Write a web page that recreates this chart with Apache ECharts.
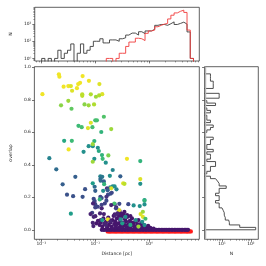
<!DOCTYPE html>
<html><head><meta charset="utf-8">
<script src="https://cdn.jsdelivr.net/npm/echarts@6/dist/echarts.min.js"></script>
<style>html,body{margin:0;padding:0;background:#fff}#c{width:266px;height:266px}</style>
</head><body><div id="c"></div>
<script>
// ---------------- DATA ----------------
// log10(distance / pc) bin edges for the top histogram
const distEdgesLog = [-2.00,-1.94,-1.88,-1.82,-1.76,-1.70,-1.64,-1.58,-1.52,-1.46,-1.40,-1.34,-1.28,-1.22,-1.16,-1.10,-1.04,-0.98,-0.92,-0.86,-0.80,-0.74,-0.68,-0.62,-0.56,-0.50,-0.44,-0.38,-0.32,-0.26,-0.20,-0.14,-0.08,-0.02,0.04,0.10,0.16,0.22,0.28,0.34,0.40,0.46,0.52,0.58,0.64,0.70,0.76,0.82];
// counts per bin: all pairs (black) and red subset
const countAll = [1,0,1,0,1,3,1,2,3,7,0,2,7,2,3,5,10,10,14,8,8,12,12,10,14,16,23,30,30,23,36,28,40,40,50,85,95,95,85,105,135,95,110,130,100,35,1];
const countRed = [0,0,0,0,0,0,0,0,0,0,0,0,0,0,0,0,0,0,0,0,1,1,0,1,2,2,5,9,9,15,14,11,29,40,45,70,85,100,110,200,330,450,560,650,480,45,1];
// overlap bin edges and counts for the right histogram
const overlapEdges = [0,0.015,0.03,0.045,0.06,0.075,0.09,0.105,0.12,0.135,0.15,0.165,0.18,0.195,0.21,0.225,0.24,0.255,0.27,0.285,0.30,0.315,0.33,0.345,0.36,0.375,0.39,0.405,0.42,0.435,0.45,0.465,0.48,0.495,0.51,0.525,0.54,0.555,0.57,0.585,0.60,0.615,0.63,0.645,0.66,0.675,0.69,0.705,0.72,0.735,0.75,0.765,0.78,0.795,0.81,0.825,0.84,0.855,0.87,0.885,0.90,0.915,0.93,0.945,0.96];
const overlapCounts = [146,41,18,17,13,12,12,11,10,8,8,6,8,8,6,8,8,14,8,7,6,4,2,3,4,4,6,6,3,4,4,3,5,3,3,4,4,5,2,1,3,4,5,2,4,3,3,2,4,3,2,6,3,2,8,8,2,2,5,5,5,4,4,4];

// red points (overlap slightly below zero): log10 distance
const redLogDist = [-0.77,-0.74,-0.72,-0.69,-0.66,-0.63,-0.61,-0.58,-0.55,-0.52,-0.50,-0.47,-0.44,-0.41,-0.39,-0.36,-0.33,-0.30,-0.28,-0.25,-0.22,-0.19,-0.17,-0.14,-0.11,-0.08,-0.06,-0.03,0.00,0.03,0.05,0.08,0.11,0.14,0.16,0.19,0.22,0.25,0.27,0.30,0.33,0.36,0.38,0.41,0.44,0.47,0.49,0.52,0.55,0.58,0.60,0.63,0.66,0.69,0.71,0.74,0.77];
const redOverlap = -0.01;
// purple band at overlap 0: log10 distance
const bandLogDist = [-0.88,-0.85,-0.825,-0.79,-0.765,-0.73,-0.705,-0.67,-0.64,-0.615,-0.58,-0.555,-0.52,-0.495,-0.46,-0.435,-0.40,-0.375,-0.34,-0.31,-0.285,-0.25,-0.225,-0.19,-0.165,-0.13,-0.105,-0.07,-0.045,-0.01,0.015,0.05,0.075,0.11,0.135,0.17,0.195,0.23,0.255,0.29,0.315,0.35,0.375,0.41,0.435,0.47,0.495,0.53,0.555,0.59,0.615,0.65,0.675,0.70,0.72];
// dense low-overlap purple cluster: [log10 distance, overlap]
const moundPoints = [[-0.98,0.04],[-0.95,0.055],[-0.92,0.03],[-0.9,0.045],[-0.87,0.02],[-0.85,0.07],[-0.83,0.035],[-0.8,0.05],[-0.78,0.015],[-0.76,0.075],[-0.75,0.03],[-0.72,0.045],[-0.7,0.02],[-0.68,0.06],[-0.66,0.085],[-0.65,0.035],[-0.63,0.05],[-0.62,0.015],[-0.6,0.07],[-0.58,0.1],[-0.57,0.04],[-0.55,0.115],[-0.54,0.06],[-0.53,0.025],[-0.51,0.08],[-0.5,0.045],[-0.48,0.095],[-0.47,0.03],[-0.45,0.065],[-0.43,0.05],[-0.42,0.015],[-0.4,0.08],[-0.38,0.035],[-0.36,0.055],[-0.34,0.02],[-0.32,0.07],[-0.3,0.04],[-0.28,0.025],[-0.26,0.05],[-0.24,0.015],[-0.22,0.035],[-0.2,0.06],[-0.18,0.02],[-0.15,0.04],[-0.12,0.015],[-0.1,0.03],[-0.07,0.02],[-0.04,0.01],[-0.02,0.025],[-0.69,0.01],[-0.61,0.03],[-0.56,0.012],[-0.49,0.018],[-0.44,0.028],[-0.37,0.012],[-0.33,0.045],[-0.27,0.01],[-0.21,0.015],[-0.16,0.025],[-0.09,0.008],[0.02,0.012],[0.08,0.008],[-0.74,0.06],[-0.64,0.095],[-0.52,0.1],[-0.46,0.11],[-0.41,0.09],[-0.35,0.085],[-0.56,0.085]];
// coloured points: [log10 distance, overlap, colour value 0..1]
const colouredPoints = [
[-1.98,0.835,0.98],[-1.675,0.957,0.98],[-1.665,0.942,0.98],[-1.587,0.881,0.98],[-1.5,0.885,0.98],[-1.453,0.885,0.95],[-1.43,0.856,0.95],[-1.34,0.872,0.98],[-1.317,0.897,0.98],[-1.282,0.905,0.98],[-1.235,0.946,0.98],[-1.118,0.917,0.98],[-0.924,0.897,0.95],[-0.871,0.835,0.95],
[-1.242,0.834,0.9],[-1.242,0.825,0.9],[-1.083,0.834,0.88],[-0.988,0.819,0.85],[-0.929,0.827,0.88],[-1.635,0.766,0.82],[-1.5,0.794,0.85],[-1.441,0.745,0.75],[-1.2,0.772,0.82],[-1.123,0.766,0.85],[-1.023,0.772,0.88],
[-1.312,0.640,0.68],[-1.252,0.632,0.7],[-1.136,0.626,0.95],[-1.083,0.659,0.95],[-1.053,0.632,0.7],[-1.0,0.674,0.7],[-0.97,0.674,0.7],[-0.841,0.696,0.72],[-0.705,0.62,0.85],[-0.889,0.602,0.65],
[-1.577,0.548,0.6],[-1.435,0.548,0.68],[-1.494,0.495,0.98],[-1.217,0.48,0.5],[-1.123,0.515,0.5],[-1.047,0.515,0.5],[-1.018,0.546,0.65],[-1.047,0.527,0.85],[-0.953,0.505,0.5],[-0.935,0.485,0.6],[-0.876,0.46,0.65],[-0.864,0.437,0.68],[-0.758,0.458,0.8],[-1.018,0.437,0.5],[-1.047,0.419,0.85],[-0.806,0.413,0.5],
[-1.852,0.441,0.45],[-1.723,0.372,0.35],[-1.37,0.326,0.3],[-1.605,0.28,0.3],[-1.189,0.25,0.25],[-1.047,0.286,0.55],[-1.012,0.265,0.35],[-1.0,0.24,0.3],[-0.906,0.329,0.45],[-0.871,0.326,0.4],[-0.906,0.312,0.35],[-0.9,0.302,0.35],[-0.841,0.298,0.3],[-0.73,0.332,0.5],[-0.677,0.368,0.45],[-0.536,0.329,0.3],[-0.836,0.281,0.65],[-0.723,0.261,0.5],[-0.677,0.267,0.5],[-0.642,0.267,0.5],[-0.607,0.249,0.45],[-0.705,0.255,0.95],[-0.783,0.255,0.15],[-0.771,0.244,0.3],[-0.854,0.24,0.5],[-0.483,0.286,0.95],
[-1.524,0.216,0.25],[-1.411,0.207,0.25],[-1.235,0.203,0.25],[-1.03,0.191,0.22],[-0.906,0.203,0.22],[-0.882,0.195,0.25],[-0.765,0.216,0.22],[-0.718,0.222,0.25],[-0.794,0.203,0.15],
[-0.413,0.437,0.98],[-0.166,0.423,0.65],[-0.166,0.312,0.95],[-0.166,0.283,0.5],[-0.459,0.283,0.9],[-0.088,0.183,0.55],
[-1.453,0.099,0.55],[-1.012,0.177,0.22],[-1.023,0.169,0.2],[-1.0,0.156,0.2],[-1.041,0.162,0.1],[-0.917,0.187,0.65],[-0.882,0.154,0.2],[-0.824,0.162,0.2],[-0.953,0.142,0.2],[-1.0,0.138,0.2],[-0.794,0.179,0.22],[-0.695,0.228,0.22],[-0.882,0.132,0.1],[-1.058,0.105,0.2],[-1.088,0.097,0.1],[-1.0,0.084,0.1],[-1.03,0.08,0.1],[-0.912,0.101,0.1],[-0.841,0.097,0.1],[-0.9,0.06,0.1],[-1.047,0.043,0.1],[-1.035,0.023,0.1],[-0.871,0.06,0.55],[-0.824,0.039,0.1],[-0.8,0.029,0.1],[-0.765,0.064,0.98],[-0.718,0.052,0.1],
[-0.642,0.158,0.22],[-0.554,0.16,0.22],[-0.612,0.138,0.1],[-0.559,0.121,0.95],[-0.388,0.158,0.22],[-0.289,0.15,0.5],[-0.176,0.146,0.5],[-0.088,0.179,0.65],[-0.088,0.156,0.5],[-0.159,0.097,0.95],[-0.118,0.08,0.95],[-0.071,0.068,0.7],[-0.13,0.049,0.5],[-0.088,0.029,0.5],[-0.635,0.091,0.1],[-0.589,0.101,0.1],[-0.529,0.064,0.5],[-0.441,0.08,0.5],[-0.647,0.162,0.7],[-0.118,0.111,0.85],[-0.705,0.152,0.1],[-0.617,0.132,0.2],[-0.5,0.04,0.55],[-0.35,0.03,0.6],[-0.25,0.06,0.5],[-0.2,0.02,0.85]
];

// tick positions / labels
const distTicks = [-2, -1, 0];
const distTickLabels = ['10\u207B\u00B2', '10\u207B\u00B9', '10\u2070'];
const topCountTicks = [0, 1, 2];
const topCountLabels = ['10\u2070', '10\u00B9', '10\u00B2'];
const overlapTicks = [0, 0.2, 0.4, 0.6, 0.8, 1.0];
const overlapTickLabels = ['0.0', '0.2', '0.4', '0.6', '0.8', '1.0'];
const rightCountTicks = [1, 2];
const rightCountLabels = ['10\u00B9', '10\u00B2'];

// ---------------- LAYOUT / STYLE ----------------
const X_MIN = -2.129, X_MAX = 0.928;       // log10 distance range
const TOPY_MIN = -0.15, TOPY_MAX = 2.98;   // log10 count range (top)
const OV_MIN = -0.0585, OV_MAX = 1.004;    // overlap range
const RX_MIN = 0.397, RX_MAX = 2.254;      // log10 count range (right)
const BASE = -1;                           // log baseline for empty bins (clipped)
const FONT = 'DejaVu Sans';
const TXT = '#222';
const SPINE = '#3a3a3a';
const FS = 4.4;

function minorTicks(lo, hi) {
  const out = [];
  for (let n = Math.floor(lo) - 1; n <= Math.ceil(hi); n++)
    for (let k = 2; k <= 9; k++) { const v = n + Math.log10(k); if (v > lo && v < hi) out.push(v); }
  return out;
}
const L = c => (c > 0 ? Math.log10(c) : BASE);
function stepVertical(edges, counts) {
  const pts = [[edges[0], BASE]];
  for (let i = 0; i < counts.length; i++) { pts.push([edges[i], L(counts[i])]); pts.push([edges[i + 1], L(counts[i])]); }
  pts.push([edges[counts.length], BASE]);
  return pts;
}
function stepHorizontal(edges, counts) {
  const pts = [[BASE, edges[0]]];
  for (let i = 0; i < counts.length; i++) { pts.push([L(counts[i]), edges[i]]); pts.push([L(counts[i]), edges[i + 1]]); }
  pts.push([BASE, edges[counts.length]]);
  return pts;
}
function labelFrom(ticks, labels) {
  return v => { for (let i = 0; i < ticks.length; i++) if (Math.abs(v - ticks[i]) < 1e-9) return labels[i]; return ''; };
}

const gridStyle = { show: true, borderColor: SPINE, borderWidth: 0.8, containLabel: false };
const grids = [
  Object.assign({ left: 26, top: 7.3, width: 173.3, height: 53.7 }, gridStyle),
  Object.assign({ left: 26, top: 66.7, width: 173.3, height: 172.6 }, gridStyle),
  Object.assign({ left: 204.5, top: 66.7, width: 53.8, height: 172.6 }, gridStyle)
];

function majorAxis(opts) {
  return Object.assign({
    type: 'value', axisLine: { show: false, onZero: false }, splitLine: { show: false },
    axisTick: { show: true, customValues: opts.ticks, length: 2.4, lineStyle: { color: SPINE, width: 0.7 } },
    axisLabel: opts.labels ? { show: true, customValues: opts.ticks, formatter: labelFrom(opts.ticks, opts.labels), fontSize: FS, color: TXT, fontFamily: FONT, margin: opts.margin || 2.5 } : { show: false }
  }, opts.extra);
}
function minorAxis(opts) {
  return Object.assign({
    type: 'value', axisLine: { show: false, onZero: false }, splitLine: { show: false },
    axisTick: { show: true, customValues: opts.ticks, length: 1.4, lineStyle: { color: SPINE, width: 0.5 } },
    axisLabel: { show: false }
  }, opts.extra);
}

const nameStyle = { fontSize: 4.6, color: TXT, fontFamily: FONT };

const xAxes = [
  majorAxis({ ticks: distTicks, extra: { gridIndex: 0, position: 'bottom', min: X_MIN, max: X_MAX } }),
  minorAxis({ ticks: minorTicks(X_MIN, X_MAX), extra: { gridIndex: 0, position: 'bottom', min: X_MIN, max: X_MAX } }),
  majorAxis({ ticks: distTicks, labels: distTickLabels, margin: 2.6, extra: { gridIndex: 1, position: 'bottom', min: X_MIN, max: X_MAX, name: 'Distance [pc]', nameLocation: 'middle', nameGap: 8.5, nameTextStyle: nameStyle } }),
  minorAxis({ ticks: minorTicks(X_MIN, X_MAX), extra: { gridIndex: 1, position: 'bottom', min: X_MIN, max: X_MAX } }),
  majorAxis({ ticks: rightCountTicks, labels: rightCountLabels, margin: 2.6, extra: { gridIndex: 2, position: 'bottom', min: RX_MIN, max: RX_MAX, name: 'N', nameLocation: 'middle', nameGap: 8.5, nameTextStyle: nameStyle } }),
  minorAxis({ ticks: minorTicks(RX_MIN, RX_MAX), extra: { gridIndex: 2, position: 'bottom', min: RX_MIN, max: RX_MAX } })
];
const yAxes = [
  majorAxis({ ticks: topCountTicks, labels: topCountLabels, margin: 3.5, extra: { gridIndex: 0, position: 'left', min: TOPY_MIN, max: TOPY_MAX, name: 'N', nameLocation: 'middle', nameGap: 12.5, nameTextStyle: nameStyle } }),
  minorAxis({ ticks: minorTicks(TOPY_MIN, TOPY_MAX), extra: { gridIndex: 0, position: 'left', min: TOPY_MIN, max: TOPY_MAX } }),
  majorAxis({ ticks: overlapTicks, labels: overlapTickLabels, margin: 3.5, extra: { gridIndex: 1, position: 'left', min: OV_MIN, max: OV_MAX, name: 'overlap', nameLocation: 'middle', nameGap: 11, nameTextStyle: nameStyle } }),
  majorAxis({ ticks: overlapTicks, extra: { gridIndex: 2, position: 'left', min: OV_MIN, max: OV_MAX } })
];

const viridis = ['#440154', '#482878', '#3e4a89', '#31688e', '#26828e', '#1f9e89', '#35b779', '#6ece58', '#b5de2b', '#fde725'];

const option = {
  animation: false,
  backgroundColor: '#fff',
  textStyle: { fontFamily: FONT },
  grid: grids,
  xAxis: xAxes,
  yAxis: yAxes,
  visualMap: { type: 'continuous', show: false, min: 0, max: 1, dimension: 2, seriesIndex: [5], inRange: { color: viridis } },
  series: [
    { type: 'line', xAxisIndex: 0, yAxisIndex: 0, data: stepVertical(distEdgesLog, countAll), symbol: 'none', clip: true,
      lineStyle: { color: '#3c3c3c', width: 0.9 } },
    { type: 'line', xAxisIndex: 0, yAxisIndex: 0, data: stepVertical(distEdgesLog, countRed), symbol: 'none', clip: true,
      lineStyle: { color: '#f03c3c', width: 0.9 } },
    { type: 'scatter', xAxisIndex: 2, yAxisIndex: 2, data: redLogDist.map(d => [d, redOverlap]), symbolSize: 4.4,
      itemStyle: { color: '#ff1a1a', opacity: 1 } },
    { type: 'scatter', xAxisIndex: 2, yAxisIndex: 2, data: bandLogDist.map(d => [d, 0]), symbolSize: 4.2,
      itemStyle: { color: '#46166d', opacity: 1 } },
    { type: 'scatter', xAxisIndex: 2, yAxisIndex: 2, data: moundPoints, symbolSize: 4.2,
      itemStyle: { color: '#46166d', opacity: 1 } },
    { type: 'scatter', xAxisIndex: 2, yAxisIndex: 2, data: colouredPoints, symbolSize: 4.2,
      itemStyle: { opacity: 1 } },
    { type: 'line', xAxisIndex: 4, yAxisIndex: 3, data: stepHorizontal(overlapEdges, overlapCounts), symbol: 'none', clip: true,
      lineStyle: { color: '#3c3c3c', width: 0.9 },
      markLine: { silent: true, symbol: 'none', label: { show: false }, animation: false,
        lineStyle: { color: '#b4b4b4', width: 1.4, type: 'solid' }, data: [{ xAxis: RX_MIN + 0.035 }] } }
  ]
};

const chart = echarts.init(document.getElementById('c'), null, { renderer: 'canvas', width: 266, height: 266 });
chart.setOption(option);
</script>
</body></html>
